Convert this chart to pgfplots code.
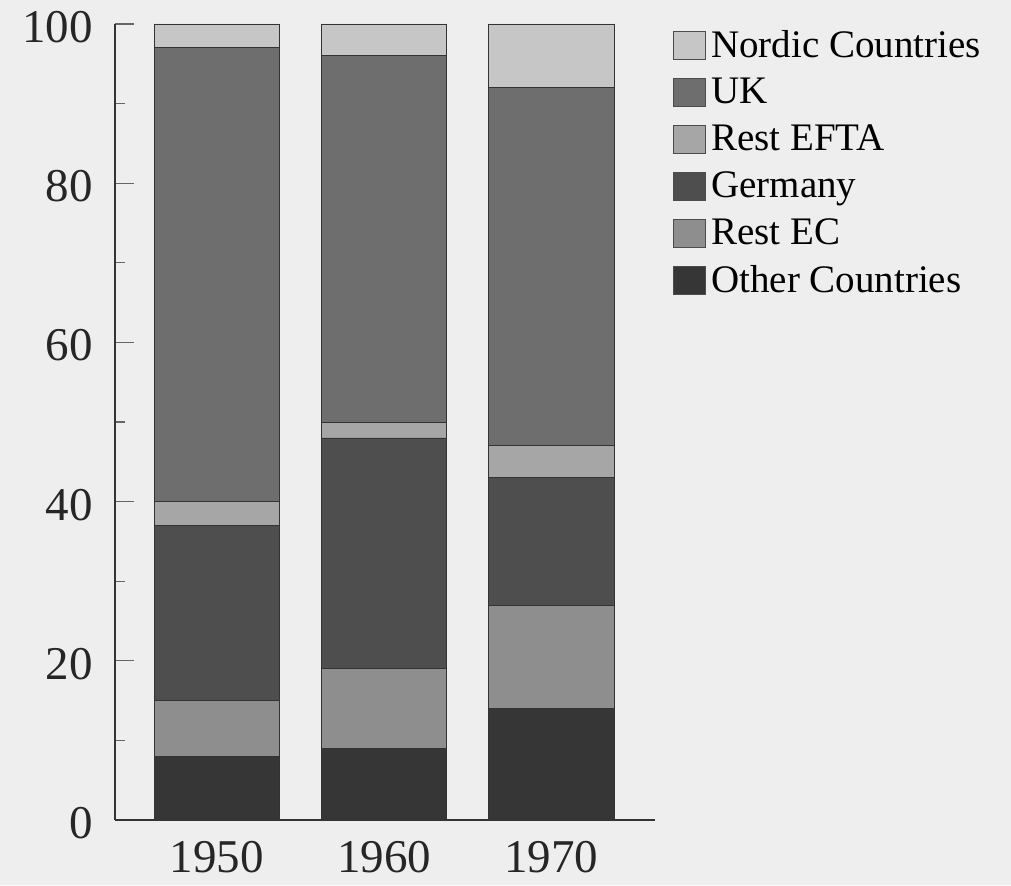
\documentclass[border=0pt]{standalone}
\usepackage{pgfplots}
\pgfplotsset{compat=1.18}
\usepackage{fontspec}
\setmainfont{Liberation Serif}
\definecolor{bg}{HTML}{EEEEEE}
\definecolor{cNordic}{HTML}{C6C6C6}
\definecolor{cUK}{HTML}{6E6E6E}
\definecolor{cEFTA}{HTML}{A6A6A6}
\definecolor{cGer}{HTML}{4E4E4E}
\definecolor{cEC}{HTML}{8E8E8E}
\definecolor{cOther}{HTML}{363636}
\begin{document}
\begin{tikzpicture}
\fill[bg] (-57.5pt,-32.5pt) rectangle (448pt,410pt);
\useasboundingbox (-57.5pt,-32.5pt) rectangle (448pt,410pt);
\begin{axis}[
  at={(0,0)}, anchor=south west,
  scale only axis, width=270pt, height=398pt,
  ybar stacked, bar width=0.75,
  xmin=-0.61, xmax=2.62, ymin=0, ymax=100,
  xtick={0,1,2}, xticklabels={1950,1960,1970},
  ytick={0,20,40,60,80,100}, minor ytick={10,30,50,70,90},
  axis x line*=bottom, axis y line*=left,
  axis line style={draw=black!80, line width=0.7pt},
  tick align=inside,
  x tick style={draw=none},
  y tick style={draw=black!60, line width=0.6pt},
  major tick length=9.5pt, minor tick length=5pt,
  /pgf/number format/assume math mode=true,
  ticklabel style={font=\fontsize{23.5}{27}\selectfont, text=black!85},
  yticklabel style={xshift=-7.5pt, yshift=-1.5pt},
  xticklabel style={yshift=-7pt},
  reverse legend,
  legend cell align=left,
  legend style={at={(1,1)}, anchor=north west, xshift=9pt, yshift=-1pt,
    draw=none, fill=none, font=\fontsize{19.5}{22}\selectfont,
    row sep=5pt, inner sep=0pt,
    nodes={inner xsep=2.5pt}},
  legend image code/.code={\draw[#1, draw=black!70] (0pt,-7pt) rectangle (16pt,7pt);},
]
\addplot[fill=cOther, draw=black!80] coordinates {(0,8) (1,9) (2,14)};
\addlegendentry{Other Countries}
\addplot[fill=cEC, draw=black!80] coordinates {(0,7) (1,10) (2,13)};
\addlegendentry{Rest EC}
\addplot[fill=cGer, draw=black!80] coordinates {(0,22) (1,29) (2,16)};
\addlegendentry{Germany}
\addplot[fill=cEFTA, draw=black!80] coordinates {(0,3) (1,2) (2,4)};
\addlegendentry{Rest EFTA}
\addplot[fill=cUK, draw=black!80] coordinates {(0,57) (1,46) (2,45)};
\addlegendentry{UK}
\addplot[fill=cNordic, draw=black!80] coordinates {(0,3) (1,4) (2,8)};
\addlegendentry{Nordic Countries}
\end{axis}
\end{tikzpicture}
\end{document}
